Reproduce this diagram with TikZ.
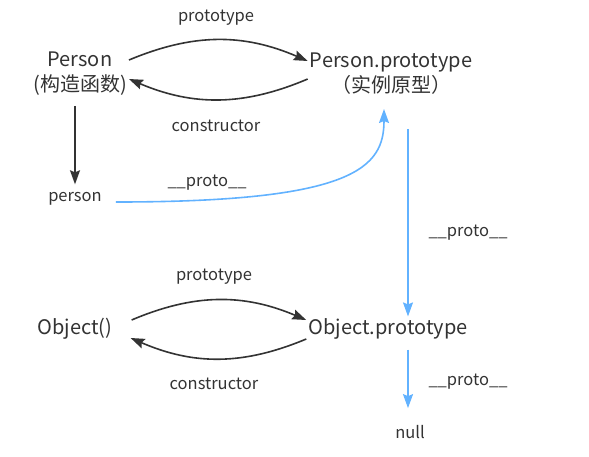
\documentclass[tikz,border=0pt]{standalone}
\usepackage{fontspec}
\setmainfont{Noto Sans CJK SC}
\usetikzlibrary{positioning, arrows.meta, calc}
\definecolor{inkgray}{HTML}{333333}
\definecolor{protoblue}{HTML}{62B2FF}

\begin{document}
\begin{tikzpicture}[
      x=1pt, y=1pt,
      every node/.style={text=inkgray, inner sep=2pt},
      big/.style={font=\fontsize{20}{25}\selectfont, align=center},
      small/.style={font=\fontsize{16.5}{19}\selectfont},
      darr/.style={draw=inkgray, line width=1.6pt, -{Stealth[length=14pt,width=10pt,inset=2pt]}},
      barr/.style={draw=protoblue, line width=1.6pt, -{Stealth[length=14pt,width=10pt,inset=2pt]}},
    ]
    \useasboundingbox (0,0) rectangle (589,-456);
    % objects
    \node[big] (Person) at (80,-74) {Person\\(构造函数)};
    \node[big] (PersonProto) at (391,-74) {Person.prototype\\（实例原型）};
    \node[small] (person) at (75,-199) {person};
    \node[big] (Object) at (75,-329) {Object()};
    \node[big] (ObjectProto) at (388,-329) {Object.prototype};
    \node[small] (null) at (410,-432) {null};
    % labels
    \node[small] (protoA) at (216,-18) {prototype};
    \node[small] (ctorA) at (216,-126) {constructor};
    \node[small] (dunderA) at (207,-183) {\_\_proto\_\_};
    \node[small] (dunderB) at (468,-233) {\_\_proto\_\_};
    \node[small] (protoB) at (214,-277) {prototype};
    \node[small] (ctorB) at (214,-384) {constructor};
    \node[small] (dunderC) at (468,-382) {\_\_proto\_\_};
    % connectors
    \draw[darr] ([yshift=14]Person.east) to[bend left=23] ([yshift=13]PersonProto.west);
    \draw[darr] ([yshift=-5]PersonProto.west) to[bend left=23] ([yshift=-5]Person.east);
    \draw[darr] ([yshift=-8]person |- Person.south) -- ([yshift=6]person.north);
    \draw[barr] ([xshift=12,yshift=-3]person.east) .. controls +(240,0) and +(0,-58) .. ([xshift=-7,yshift=-12]PersonProto.south);
    \draw[barr] ([xshift=17,yshift=-32]PersonProto.south) coordinate (ptail) -- (ptail |- ObjectProto.north);
    \draw[darr] ([xshift=17,yshift=9]Object.east) to[bend left=23] ([yshift=9]ObjectProto.west);
    \draw[darr] ([yshift=-10]ObjectProto.west) to[bend left=23] ([xshift=16,yshift=-9]Object.east);
    \draw[barr] ([xshift=20,yshift=-8]ObjectProto.south) coordinate (otail) -- ([yshift=15]otail |- null.north);
  \end{tikzpicture}
\end{document}
